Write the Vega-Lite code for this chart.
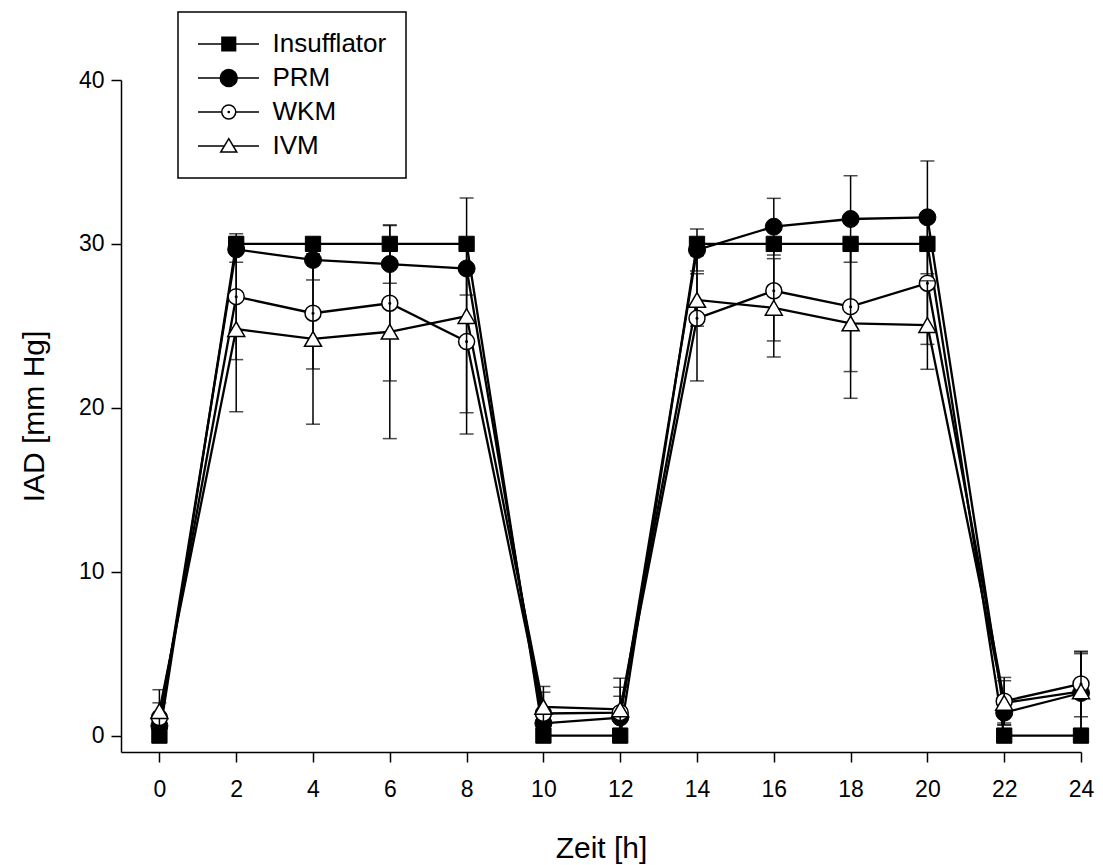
{
  "$schema": "https://vega.github.io/schema/vega-lite/v6.json",
  "autosize": "none",
  "width": 960,
  "height": 672,
  "padding": {"left": 121, "top": 80, "right": 22, "bottom": 113},
  "background": "white",
  "config": {
    "view": {"stroke": null},
    "font": "Liberation Sans",
    "axis": {
      "domainColor": "black", "domainWidth": 1.5, "tickColor": "black", "tickWidth": 1.5, "tickSize": 10,
      "labelFontSize": 23, "labelColor": "black", "labelFont": "Liberation Sans",
      "titleFontSize": 30, "titleFontWeight": "normal", "titleColor": "black", "titleFont": "Liberation Sans",
      "grid": false, "labelFlush": false, "labelOverlap": false
    },
    "legend": {"strokeWidth": 1.5}
  },
  "data": {"values": [
    {"t": 0, "g": "Insufflator", "m": 0, "lo": 0, "hi": 0},
    {"t": 2, "g": "Insufflator", "m": 30, "lo": 30, "hi": 30},
    {"t": 4, "g": "Insufflator", "m": 30, "lo": 30, "hi": 30},
    {"t": 6, "g": "Insufflator", "m": 30, "lo": 30, "hi": 30},
    {"t": 8, "g": "Insufflator", "m": 30, "lo": 30, "hi": 30},
    {"t": 10, "g": "Insufflator", "m": 0, "lo": 0, "hi": 0},
    {"t": 12, "g": "Insufflator", "m": 0, "lo": 0, "hi": 0},
    {"t": 14, "g": "Insufflator", "m": 30, "lo": 30, "hi": 30},
    {"t": 16, "g": "Insufflator", "m": 30, "lo": 30, "hi": 30},
    {"t": 18, "g": "Insufflator", "m": 30, "lo": 30, "hi": 30},
    {"t": 20, "g": "Insufflator", "m": 30, "lo": 30, "hi": 30},
    {"t": 22, "g": "Insufflator", "m": 0, "lo": 0, "hi": 0},
    {"t": 24, "g": "Insufflator", "m": 0, "lo": 0, "hi": 0},
    {"t": 0, "g": "PRM", "m": 0.6, "lo": 0.1, "hi": 1.1},
    {"t": 2, "g": "PRM", "m": 29.66, "lo": 28.88, "hi": 30.44},
    {"t": 4, "g": "PRM", "m": 29.02, "lo": 27.8, "hi": 30.24},
    {"t": 6, "g": "PRM", "m": 28.77, "lo": 27.6, "hi": 29.94},
    {"t": 8, "g": "PRM", "m": 28.5, "lo": 26.88, "hi": 30.12},
    {"t": 10, "g": "PRM", "m": 0.75, "lo": 0.35, "hi": 1.15},
    {"t": 12, "g": "PRM", "m": 1.1, "lo": 0, "hi": 2.4},
    {"t": 14, "g": "PRM", "m": 29.63, "lo": 28.35, "hi": 30.91},
    {"t": 16, "g": "PRM", "m": 31.05, "lo": 29.32, "hi": 32.78},
    {"t": 18, "g": "PRM", "m": 31.52, "lo": 28.88, "hi": 34.16},
    {"t": 20, "g": "PRM", "m": 31.62, "lo": 28.18, "hi": 35.06},
    {"t": 22, "g": "PRM", "m": 1.4, "lo": 0.77, "hi": 2.03},
    {"t": 24, "g": "PRM", "m": 2.6, "lo": 0.2, "hi": 5.0},
    {"t": 0, "g": "WKM", "m": 1.1, "lo": 0.2, "hi": 2.0},
    {"t": 2, "g": "WKM", "m": 26.78, "lo": 22.94, "hi": 30.62},
    {"t": 4, "g": "WKM", "m": 25.77, "lo": 22.37, "hi": 29.17},
    {"t": 6, "g": "WKM", "m": 26.38, "lo": 21.64, "hi": 31.12},
    {"t": 8, "g": "WKM", "m": 24.04, "lo": 19.7, "hi": 28.38},
    {"t": 10, "g": "WKM", "m": 1.35, "lo": 0.05, "hi": 2.65},
    {"t": 12, "g": "WKM", "m": 1.4, "lo": 0, "hi": 2.95},
    {"t": 14, "g": "WKM", "m": 25.46, "lo": 21.64, "hi": 29.28},
    {"t": 16, "g": "WKM", "m": 27.14, "lo": 24.08, "hi": 30.2},
    {"t": 18, "g": "WKM", "m": 26.17, "lo": 22.21, "hi": 30.13},
    {"t": 20, "g": "WKM", "m": 27.6, "lo": 23.87, "hi": 31.33},
    {"t": 22, "g": "WKM", "m": 2.1, "lo": 0.65, "hi": 3.55},
    {"t": 24, "g": "WKM", "m": 3.15, "lo": 1.15, "hi": 5.15},
    {"t": 0, "g": "IVM", "m": 1.5, "lo": 0.2, "hi": 2.8},
    {"t": 2, "g": "IVM", "m": 24.8, "lo": 19.76, "hi": 29.84},
    {"t": 4, "g": "IVM", "m": 24.2, "lo": 19.0, "hi": 29.4},
    {"t": 6, "g": "IVM", "m": 24.64, "lo": 18.12, "hi": 31.16},
    {"t": 8, "g": "IVM", "m": 25.6, "lo": 18.4, "hi": 32.8},
    {"t": 10, "g": "IVM", "m": 1.75, "lo": 0.5, "hi": 3.0},
    {"t": 12, "g": "IVM", "m": 1.6, "lo": 0, "hi": 3.5},
    {"t": 14, "g": "IVM", "m": 26.58, "lo": 24.98, "hi": 28.18},
    {"t": 16, "g": "IVM", "m": 26.1, "lo": 23.1, "hi": 29.1},
    {"t": 18, "g": "IVM", "m": 25.15, "lo": 20.58, "hi": 29.72},
    {"t": 20, "g": "IVM", "m": 25.05, "lo": 22.35, "hi": 27.75},
    {"t": 22, "g": "IVM", "m": 2.0, "lo": 0.65, "hi": 3.35},
    {"t": 24, "g": "IVM", "m": 2.7, "lo": 0.3, "hi": 5.1}
  ]},
  "encoding": {
    "x": {"field": "t", "type": "quantitative", "scale": {"domain": [-1, 24], "nice": false, "zero": false},
      "axis": {"title": "Zeit [h]", "values": [0, 2, 4, 6, 8, 10, 12, 14, 16, 18, 20, 22, 24], "labelPadding": 16, "titlePadding": 32}},
    "y": {"field": "m", "type": "quantitative", "scale": {"domain": [-1, 40], "nice": false, "zero": false},
      "axis": {"title": "IAD [mm Hg]", "values": [0, 10, 20, 30, 40], "labelPadding": 7, "titlePadding": 29}}
  },
  "layer": [
    {"mark": {"type": "line", "color": "black", "strokeWidth": 2.3}, "encoding": {"detail": {"field": "g"}}},
    {"transform": [{"filter": "datum.g === 'Insufflator'"}],
     "mark": {"type": "point", "shape": "square", "size": 234, "filled": true, "fill": "black", "stroke": "black", "strokeWidth": 1, "opacity": 1}},
    {"transform": [{"filter": "datum.g === 'PRM'"}],
     "mark": {"type": "rule", "color": "black", "strokeWidth": 1.5},
     "encoding": {"y": {"field": "lo", "type": "quantitative"}, "y2": {"field": "hi"}}},
    {"transform": [{"filter": "datum.g === 'PRM'"}],
     "mark": {"type": "tick", "orient": "horizontal", "color": "black", "size": 14, "thickness": 1.5},
     "encoding": {"y": {"field": "lo", "type": "quantitative"}}},
    {"transform": [{"filter": "datum.g === 'PRM'"}],
     "mark": {"type": "tick", "orient": "horizontal", "color": "black", "size": 14, "thickness": 1.5},
     "encoding": {"y": {"field": "hi", "type": "quantitative"}}},
    {"transform": [{"filter": "datum.g === 'PRM'"}],
     "mark": {"type": "point", "shape": "circle", "size": 289, "filled": true, "fill": "black", "stroke": "black", "strokeWidth": 1, "opacity": 1}},
    {"transform": [{"filter": "datum.g === 'WKM'"}],
     "mark": {"type": "rule", "color": "black", "strokeWidth": 1.5},
     "encoding": {"y": {"field": "lo", "type": "quantitative"}, "y2": {"field": "hi"}}},
    {"transform": [{"filter": "datum.g === 'WKM'"}],
     "mark": {"type": "tick", "orient": "horizontal", "color": "black", "size": 14, "thickness": 1.5},
     "encoding": {"y": {"field": "lo", "type": "quantitative"}}},
    {"transform": [{"filter": "datum.g === 'WKM'"}],
     "mark": {"type": "tick", "orient": "horizontal", "color": "black", "size": 14, "thickness": 1.5},
     "encoding": {"y": {"field": "hi", "type": "quantitative"}}},
    {"transform": [{"filter": "datum.g === 'WKM'"}],
     "mark": {"type": "point", "shape": "M1,0A1,1,0,1,1,-1,0A1,1,0,1,1,1,0ZM0.1,0A0.1,0.1,0,1,1,-0.1,0A0.1,0.1,0,1,1,0.1,0Z", "size": 256, "filled": true, "fill": "white", "stroke": "black", "strokeWidth": 1.5, "opacity": 1}},
    {"transform": [{"filter": "datum.g === 'IVM'"}],
     "mark": {"type": "rule", "color": "black", "strokeWidth": 1.5},
     "encoding": {"y": {"field": "lo", "type": "quantitative"}, "y2": {"field": "hi"}}},
    {"transform": [{"filter": "datum.g === 'IVM'"}],
     "mark": {"type": "tick", "orient": "horizontal", "color": "black", "size": 14, "thickness": 1.5},
     "encoding": {"y": {"field": "lo", "type": "quantitative"}}},
    {"transform": [{"filter": "datum.g === 'IVM'"}],
     "mark": {"type": "tick", "orient": "horizontal", "color": "black", "size": 14, "thickness": 1.5},
     "encoding": {"y": {"field": "hi", "type": "quantitative"}}},
    {"transform": [{"filter": "datum.g === 'IVM'"}],
     "mark": {"type": "point", "shape": "triangle-up", "size": 289, "filled": true, "fill": "white", "stroke": "black", "strokeWidth": 1.5, "opacity": 1}},
    {"mark": {"type": "point", "filled": false, "opacity": 0, "strokeWidth": 1.5},
     "encoding": {
       "shape": {"field": "g", "type": "nominal",
         "scale": {"domain": ["Insufflator", "PRM", "WKM", "IVM"],
           "range": [
             "M-1.6,0H6.53M1.59,-0.91H3.41V0.91H1.59Z",
             "M-1.6,0H6.53M3.63,0A1.13,1.13,0,1,1,1.37,0A1.13,1.13,0,1,1,3.63,0Z",
             "M-1.6,0H1.57M3.43,0H6.53M3.43,0A0.93,0.93,0,1,1,1.57,0A0.93,0.93,0,1,1,3.43,0ZM2.58,0A0.08,0.08,0,1,1,2.42,0A0.08,0.08,0,1,1,2.58,0Z",
             "M-1.6,0H1.91M3.09,0H6.53M2.5,-0.98L3.57,0.8L1.43,0.8Z"
           ]},
         "legend": {"title": null, "orient": "none", "legendX": 57, "legendY": -68, "symbolSize": 225,
           "symbolStrokeWidth": 1.5, "symbolStrokeColor": "black", "symbolOpacity": 1,
           "labelFont": "Liberation Sans", "labelFontSize": 26, "labelColor": "black", "labelOffset": 49.5,
           "padding": 19, "rowPadding": 8, "strokeColor": "black",
           "encode": {"symbols": {"update": {"stroke": {"value": "black"}, "strokeWidth": {"value": 1.5}, "opacity": {"value": 1}, "strokeOpacity": {"value": 1}}}}}},
       "fill": {"field": "g", "type": "nominal",
         "scale": {"domain": ["Insufflator", "PRM", "WKM", "IVM"], "range": ["black", "black", "white", "white"]},
         "legend": {"title": null, "orient": "none", "legendX": 57, "legendY": -68, "symbolSize": 225,
           "symbolStrokeWidth": 1.5, "symbolStrokeColor": "black", "symbolOpacity": 1,
           "labelFont": "Liberation Sans", "labelFontSize": 26, "labelColor": "black", "labelOffset": 49.5,
           "padding": 19, "rowPadding": 8, "strokeColor": "black",
           "encode": {"symbols": {"update": {"stroke": {"value": "black"}, "strokeWidth": {"value": 1.5}, "opacity": {"value": 1}, "strokeOpacity": {"value": 1}}}}}},
       "stroke": {"field": "g", "type": "nominal",
         "scale": {"domain": ["Insufflator", "PRM", "WKM", "IVM"], "range": ["black", "black", "black", "black"]},
         "legend": {"title": null, "orient": "none", "legendX": 57, "legendY": -68, "symbolSize": 225,
           "symbolStrokeWidth": 1.5, "symbolStrokeColor": "black", "symbolOpacity": 1,
           "labelFont": "Liberation Sans", "labelFontSize": 26, "labelColor": "black", "labelOffset": 49.5,
           "padding": 19, "rowPadding": 8, "strokeColor": "black",
           "encode": {"symbols": {"update": {"stroke": {"value": "black"}, "strokeWidth": {"value": 1.5}, "opacity": {"value": 1}, "strokeOpacity": {"value": 1}}}}}}
     }}
  ]
}
